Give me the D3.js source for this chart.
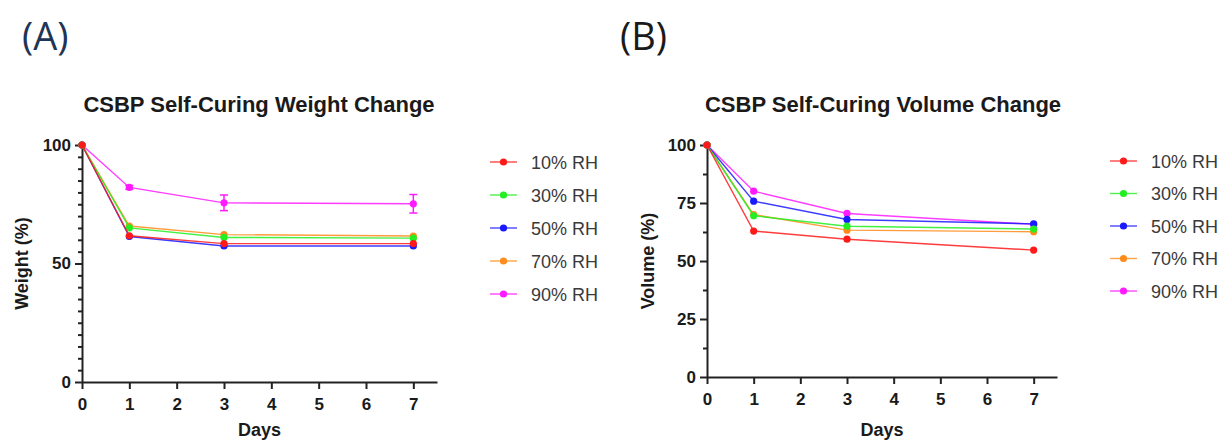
<!DOCTYPE html>
<meta charset="utf-8">
<script src="https://d3js.org/d3.v7.min.js"></script>
<style>
  body { margin: 0; background: #fff; }
  svg { display: block; }
  .tick text { font-family: "Liberation Sans", Arial, sans-serif; font-weight: bold; fill: #1a1a1a; }
</style>
<body>
<div id="chart"></div>
<script>
// days sampled
var days = [0, 1, 3, 7]
var seriesNames = ["10% RH", "30% RH", "50% RH", "70% RH", "90% RH"]
var seriesColors = ["#ff1a1a", "#22ee22", "#1a1aff", "#ff8c1a", "#ff1aff"]

// weight change (%)
var weight10 = [100, 61.7, 58.4, 58.4]
var weight30 = [100, 65.0, 61.0, 60.7]
var weight50 = [100, 61.4, 57.4, 57.4]
var weight70 = [100, 65.8, 62.2, 61.6]
var weight90 = [100, 82.1, 75.6, 75.2]
var weight90err = [0, 0.8, 3.3, 3.9]

// volume change (%)
var volume10 = [100, 62.9, 59.4, 54.7]
var volume30 = [100, 69.5, 65.0, 63.8]
var volume50 = [100, 75.8, 67.9, 66.0]
var volume70 = [100, 70.0, 63.3, 62.6]
var volume90 = [100, 80.1, 70.5, 65.8]

var weightTicks = [0, 50, 100]
var volumeTicks = [0, 25, 50, 75, 100]
var dayTicks = [0, 1, 2, 3, 4, 5, 6, 7]

const W = 1224, H = 442
var svg = d3.select("#chart").append("svg").attr("width", W).attr("height", H)

var font = '"Liberation Sans", Arial, sans-serif'

function drawPanel(opt) {
  var x = d3.scaleLinear().domain([0, 7.5]).range(opt.xr)
  var y = d3.scaleLinear().domain([0, 100]).range(opt.yr)
  var g = svg.append("g")

  // minor y ticks
  g.append("g")
    .attr("transform", "translate(" + opt.xr[0] + ",0)")
    .call(d3.axisLeft(y).tickValues(opt.minor).tickSize(4).tickFormat(""))
    .call(function (a) { a.select(".domain").remove() })
    .selectAll("line").attr("stroke", "#222").attr("stroke-width", 1.6)

  var ya = g.append("g")
    .attr("transform", "translate(" + opt.xr[0] + ",0)")
    .call(d3.axisLeft(y).tickValues(opt.yticks).tickSize(7).tickPadding(4).tickSizeOuter(0))
  ya.selectAll("text").attr("font-size", 17)

  var xa = g.append("g")
    .attr("transform", "translate(0," + opt.yr[0] + ")")
    .call(d3.axisBottom(x).tickValues(dayTicks).tickSize(7).tickPadding(9).tickSizeOuter(0).tickFormat(d3.format("d")))
  xa.selectAll("text").attr("font-size", 17)

  g.selectAll(".domain, .tick line").attr("stroke", "#222").attr("stroke-width", 2)

  // titles
  g.append("text")
    .attr("x", opt.titleX).attr("y", 112)
    .attr("text-anchor", "middle")
    .attr("font-family", font).attr("font-weight", "bold").attr("font-size", 22)
    .attr("fill", "#1a1a1a")
    .text(opt.title)

  g.append("text")
    .attr("x", (opt.xr[0] + opt.xr[1]) / 2).attr("y", 436)
    .attr("text-anchor", "middle")
    .attr("font-family", font).attr("font-weight", "bold").attr("font-size", 18)
    .attr("fill", "#1a1a1a")
    .text("Days")

  g.append("text")
    .attr("transform", "translate(" + opt.ylabX + "," + y(50) + ") rotate(-90)")
    .attr("text-anchor", "middle")
    .attr("font-family", font).attr("font-weight", "bold").attr("font-size", 18)
    .attr("fill", "#1a1a1a")
    .text(opt.ylabel)

  var line = d3.line().x(function (d, i) { return x(days[i]) }).y(function (d) { return y(d) })

  // draw 90% first so 10% ends up on top, as in the original
  for (var k = opt.series.length - 1; k >= 0; k--) {
    var vals = opt.series[k]
    var col = seriesColors[k]
    var err = opt.errs[k]
    if (err) {
      vals.forEach(function (v, i) {
        if (!err[i]) return
        var cx = x(days[i])
        g.append("line").attr("x1", cx).attr("x2", cx)
          .attr("y1", y(v + err[i])).attr("y2", y(v - err[i]))
          .attr("stroke", col).attr("stroke-width", 1.5)
        ;[v + err[i], v - err[i]].forEach(function (e) {
          g.append("line").attr("x1", cx - 4).attr("x2", cx + 4)
            .attr("y1", y(e)).attr("y2", y(e))
            .attr("stroke", col).attr("stroke-width", 1.5)
        })
      })
    }
    g.append("path").datum(vals)
      .attr("d", line).attr("fill", "none")
      .attr("stroke", col).attr("stroke-width", 1.4).attr("stroke-opacity", 0.85)
    g.selectAll(null).data(vals).enter().append("circle")
      .attr("cx", function (d, i) { return x(days[i]) })
      .attr("cy", function (d) { return y(d) })
      .attr("r", 3.6).attr("fill", col)
  }

  // legend
  var lg = svg.append("g")
  seriesNames.forEach(function (name, k) {
    var ly = opt.legY + k * opt.legStep
    lg.append("line").attr("x1", opt.legX).attr("x2", opt.legX + 27)
      .attr("y1", ly).attr("y2", ly)
      .attr("stroke", seriesColors[k]).attr("stroke-width", 1.4).attr("stroke-opacity", 0.8)
    lg.append("circle").attr("cx", opt.legX + 13.5).attr("cy", ly).attr("r", 3.6).attr("fill", seriesColors[k])
    lg.append("text").attr("x", opt.legX + 41).attr("y", ly + 6.5)
      .attr("font-family", font).attr("font-size", 18).attr("fill", "#3a3a3a")
      .text(name)
  })
}

drawPanel({
  xr: [82, 437], yr: [382, 145],
  yticks: weightTicks, minor: d3.range(5, 100, 5).filter(function (d) { return d % 50 }),
  title: "CSBP Self-Curing Weight Change", titleX: 259,
  ylabel: "Weight (%)", ylabX: 28,
  series: [weight10, weight30, weight50, weight70, weight90],
  errs: [null, null, null, null, weight90err],
  legX: 490, legY: 162, legStep: 33
})

drawPanel({
  xr: [707, 1057], yr: [377, 145],
  yticks: volumeTicks, minor: [12.5, 37.5, 62.5, 87.5],
  title: "CSBP Self-Curing Volume Change", titleX: 883,
  ylabel: "Volume (%)", ylabX: 654,
  series: [volume10, volume30, volume50, volume70, volume90],
  errs: [null, null, null, null, null],
  legX: 1110, legY: 161, legStep: 32.5
})

// panel letters
svg.append("text").attr("x", 22).attr("y", 50)
  .attr("font-family", '"Open Sans", sans-serif').attr("font-size", 38).attr("fill", "#1f3556")
  .text("(A)")
svg.append("text").attr("x", 620).attr("y", 50)
  .attr("font-family", '"Open Sans", sans-serif').attr("font-size", 38).attr("fill", "#1a1a1a")
  .text("(B)")
</script>
</body>
